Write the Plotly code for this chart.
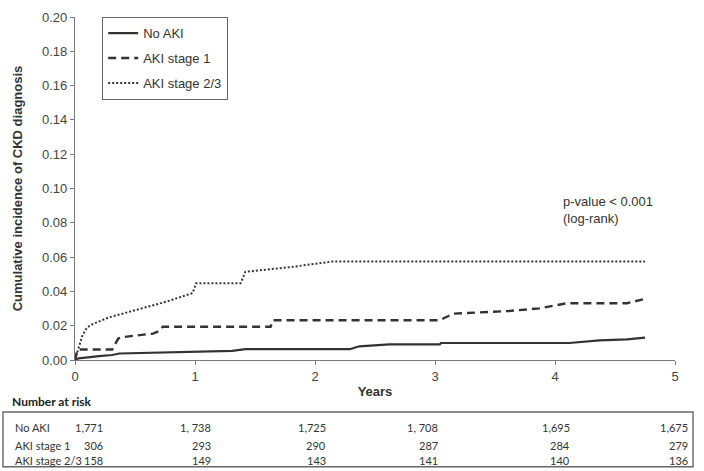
import plotly.graph_objects as go

# ---- data ----
t_no_aki = [0, 0.03, 0.2, 0.31, 0.37, 0.7, 0.98, 1.31, 1.42, 2.29, 2.37, 2.54, 2.62, 3.04, 3.05, 4.12, 4.37, 4.6, 4.75]
v_no_aki = [0, 0.001, 0.0023, 0.0029, 0.0038, 0.0042, 0.0046, 0.0053, 0.0063, 0.0063, 0.008, 0.0086, 0.0091, 0.0091, 0.0099, 0.0099, 0.0114, 0.012, 0.013]

t_aki1 = [0, 0.02, 0.31, 0.36, 0.39, 0.65, 0.70, 0.73, 1.63, 1.65, 3.04, 3.15, 3.62, 3.87, 4.10, 4.60, 4.76]
v_aki1 = [0, 0.0061, 0.0061, 0.0125, 0.0133, 0.0154, 0.0168, 0.0194, 0.0194, 0.0232, 0.0232, 0.027, 0.0286, 0.0301, 0.0331, 0.0331, 0.0358]

t_aki23 = [0, 0.03, 0.06, 0.10, 0.15, 0.28, 0.48, 0.76, 0.98, 1.01, 1.38, 1.42, 1.81, 2.09, 2.15, 4.75]
v_aki23 = [0, 0.0076, 0.014, 0.019, 0.021, 0.0248, 0.0286, 0.034, 0.039, 0.0448, 0.0448, 0.0514, 0.0543, 0.0571, 0.0575, 0.0575]

series_names = ["No AKI", "AKI stage 1", "AKI stage 2/3"]

risk_no_aki = ["1,771", "1, 738", "1,725", "1, 708", "1,695", "1,675"]
risk_aki1 = ["306", "293", "290", "287", "284", "279"]
risk_aki23 = ["158", "149", "143", "141", "140", "136"]

x_ticks = [0, 1, 2, 3, 4, 5]
y_ticks = [0.00, 0.02, 0.04, 0.06, 0.08, 0.10, 0.12, 0.14, 0.16, 0.18, 0.20]

# ---- figure ----
LINE = "#333333"
AX = "#7a7a7a"
TXT = "#444444"
FONT = "Liberation Sans, Arial, sans-serif"
TFONT = "Lato, Carlito, sans-serif"
TSIZE = 11

fig = go.Figure()
fig.add_trace(go.Scatter(x=t_no_aki, y=v_no_aki, mode="lines", name=series_names[0],
                         legendgroup="a", line=dict(color=LINE, width=2.2)))
fig.add_trace(go.Scatter(x=t_aki1, y=v_aki1, mode="lines", name=series_names[1],
                         legendgroup="b", line=dict(color=LINE, width=2.4, dash="8px,5px")))
fig.add_trace(go.Scatter(x=t_aki23, y=v_aki23, mode="lines", name=series_names[2],
                         legendgroup="c", line=dict(color=LINE, width=2, dash="2px,2px")))

fig.update_layout(
    width=704, height=471,
    margin=dict(l=75, r=29, t=10, b=111),
    paper_bgcolor="white", plot_bgcolor="white",
    font=dict(family=FONT, size=13, color=TXT),
    showlegend=True,
    legend=dict(x=0.045, y=1.0, xanchor="left", yanchor="top",
                bordercolor="#666666", borderwidth=1.2, bgcolor="white",
                font=dict(family=FONT, size=13, color="#333333"),
                tracegroupgap=5),
)

fig.update_xaxes(range=[0, 5], tickvals=x_ticks, showgrid=False, zeroline=False,
                 showline=True, linecolor=AX, linewidth=1.2,
                 ticks="outside", ticklen=4, tickcolor=AX,
                 tickfont=dict(family=FONT, size=13, color=TXT),
                 title=dict(text="<b>Years</b>", standoff=4,
                            font=dict(family=FONT, size=13, color="#333333")))
fig.update_yaxes(range=[0, 0.2], tickvals=y_ticks, tickformat=".2f", showgrid=False, zeroline=False,
                 showline=True, linecolor=AX, linewidth=1.2,
                 ticks="outside", ticklen=4, tickcolor=AX,
                 tickfont=dict(family=FONT, size=13, color=TXT),
                 title=dict(text="<b>Cumulative incidence of CKD diagnosis</b>", standoff=16,
                            font=dict(family=FONT, size=13, color="#333333")))

# p-value annotation
fig.add_annotation(x=0.81, y=0.49, xref="paper", yref="paper", xanchor="left", yanchor="top",
                   align="left", showarrow=False,
                   text="p-value < 0.001<br>(log-rank)",
                   font=dict(family=FONT, size=13, color="#333333"))

# ---- number at risk table ----
fig.add_annotation(x=-0.108, y=-0.12, xref="paper", yref="paper", xanchor="left", yanchor="middle",
                   showarrow=False, text="<b>Number at risk</b>",
                   font=dict(family=TFONT, size=12, color="#222222"))
fig.add_shape(type="rect", xref="paper", yref="paper", x0=-0.12, x1=1.03, y0=-0.3114, y1=-0.1514,
              line=dict(color="#666666", width=1.4), fillcolor="rgba(0,0,0,0)")

row_y = [-0.197, -0.2486, -0.292]
col_x = [0.05, 0.23, 0.4217, 0.6083, 0.8283, 1.025]
rows = [risk_no_aki, risk_aki1, risk_aki23]
for ry, name, vals in zip(row_y, series_names, rows):
    fig.add_annotation(x=-0.1033, y=ry, xref="paper", yref="paper", xanchor="left", yanchor="middle",
                       showarrow=False, text=name, font=dict(family=TFONT, size=TSIZE, color="#333333"))
    for cx, val in zip(col_x, vals):
        fig.add_annotation(x=cx, y=ry, xref="paper", yref="paper", xanchor="right", yanchor="middle",
                           showarrow=False, text=val, font=dict(family=TFONT, size=TSIZE, color="#333333"))

fig.write_html("out.html",
               config={"displayModeBar": False},
               post_script="document.body.style.margin='0';document.body.style.overflow='hidden';")
